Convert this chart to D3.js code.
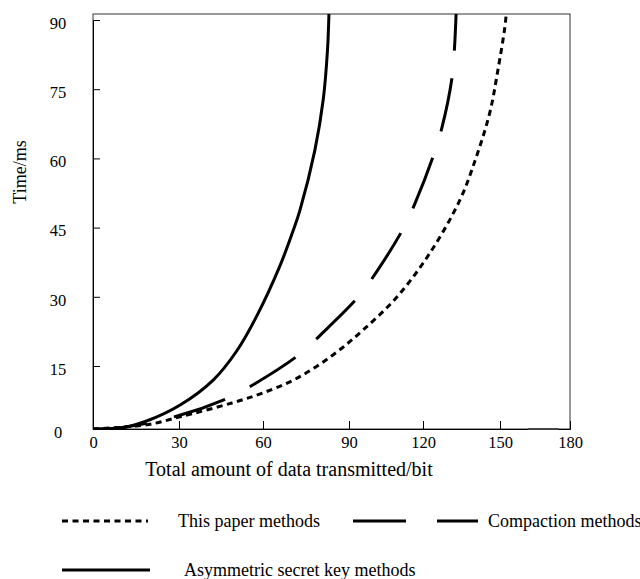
<!DOCTYPE html>
<html>
<head>
<meta charset="utf-8">
<script src="https://cdn.jsdelivr.net/npm/d3@7"></script>
<style>
    body { margin: 0; background: #fff; }
    svg text { font-family: "Liberation Serif", "Times New Roman", serif; fill: #000; }
</style>
</head>
<body>
<div id="chart"></div>
<script>

// tick values
const xTicks = [0, 30, 60, 90, 120, 150, 180];
const yTicks = [0, 15, 30, 45, 60, 75, 90];

const seriesNames = ["This paper methods", "Compaction methods", "Asymmetric secret key methods"];

// values (x = bits, y = ms)
const paperX = [0, 18.7, 30.4, 48.9, 60, 71.9, 84.4, 95.7, 109.5, 122.7, 134.4, 141.0, 146.1, 149.2, 152.1, 152.7];
const paperY = [0, 1.0, 2.9, 6.2, 8.6, 12.1, 17.4, 22.8, 30.0, 39.5, 51.0, 60.7, 70.1, 79.2, 88.5, 91.5];

const compactX = [0, 9.4, 29.4, 47.9, 57.4, 72.9, 80.0, 93.8, 100.9, 111.8, 116.8, 124.0, 127.3, 131.2, 132.2, 132.9];
const compactY = [0, 0.3, 3.1, 7.5, 10.9, 17.6, 21.7, 30.0, 35.2, 44.6, 50.3, 60.5, 66.5, 77.1, 83.3, 91.4];

const asymX = [0, 9.4, 18.7, 30.4, 42.3, 50.6, 57.75, 65.9, 70.6, 72.9, 78.1, 81.0, 82.5, 83.0];
const asymY = [0, 0.2, 1.9, 5.7, 11.7, 18.25, 25.8, 36.7, 44.5, 48.8, 61.8, 72.7, 83.5, 91.3];

let width = 640,
    height = 579,
    plot = {left: 93, right: 570, top: 14, bottom: 429};

// the original axis is not evenly spaced, so the scales are piecewise
let x = d3.scaleLinear()
    .domain(xTicks)
    .range([93, 179, 263, 349, 423, 500, 570]);

let y = d3.scaleLinear()
    .domain([0, 15, 90])
    .range([429, 366, 20]);

let svg = d3.select("#chart").append("svg")
    .attr("width", width)
    .attr("height", height)
    .style("display", "block");

svg.append("defs").append("clipPath")
    .attr("id", "plot-clip")
    .append("rect")
    .attr("x", plot.left)
    .attr("y", plot.top)
    .attr("width", plot.right - plot.left)
    .attr("height", plot.bottom - plot.top);

// frame
svg.append("rect")
    .attr("x", plot.left)
    .attr("y", plot.top)
    .attr("width", plot.right - plot.left)
    .attr("height", plot.bottom - plot.top)
    .attr("fill", "none")
    .attr("stroke", "#333")
    .attr("stroke-width", 1);

// x axis, ticks pointing inward
let xAxis = svg.append("g")
    .attr("transform", "translate(0," + plot.bottom + ")")
    .call(d3.axisBottom(x).tickValues(xTicks).tickSize(-8).tickPadding(7).tickFormat(d3.format("d")))
    .attr("font-family", null)
    .attr("font-size", null);
xAxis.select(".domain").attr("stroke", "#000");
xAxis.selectAll(".tick line").attr("stroke", "#000");
xAxis.selectAll(".tick").filter(d => d === 0 || d === 180).select("line").remove();
xAxis.selectAll("text")
    .style("font-size", "16.5px");

// y axis
let yAxis = svg.append("g")
    .attr("transform", "translate(" + plot.left + ",0)")
    .call(d3.axisLeft(y).tickValues(yTicks).tickSize(-7).tickPadding(26).tickFormat(d3.format("d")))
    .attr("font-family", null)
    .attr("font-size", null);
yAxis.select(".domain").attr("stroke", "#000");
yAxis.selectAll(".tick line").attr("stroke", "#000");
yAxis.selectAll(".tick").filter(d => d === 0 || d === 90).select("line").remove();
yAxis.selectAll("text")
    .attr("x", -35)
    .attr("dy", "0.5em")
    .attr("text-anchor", "middle")
    .style("font-size", "16.5px");

// axis titles
svg.append("text")
    .attr("x", 289)
    .attr("y", 476)
    .attr("text-anchor", "middle")
    .style("font-size", "20px")
    .text("Total amount of data transmitted/bit");

svg.append("text")
    .attr("transform", "translate(20,172) rotate(-90)")
    .attr("dy", "0.35em")
    .attr("text-anchor", "middle")
    .style("font-size", "18px")
    .text("Time/ms");

// curves
let line = d3.line()
    .x(d => x(d[0]))
    .y(d => y(d[1]))
    .curve(d3.curveCatmullRom.alpha(0.5));

let series = [
    {name: seriesNames[0], pts: d3.zip(paperX, paperY), dash: "6,4.5"},
    {name: seriesNames[1], pts: d3.zip(compactX, compactY), dash: "54,28"},
    {name: seriesNames[2], pts: d3.zip(asymX, asymY), dash: null}
];

svg.append("g")
    .attr("clip-path", "url(#plot-clip)")
    .selectAll("path")
    .data(series)
    .enter().append("path")
    .attr("d", d => line(d.pts))
    .attr("fill", "none")
    .attr("stroke", "#000")
    .attr("stroke-width", 3)
    .attr("stroke-dasharray", d => d.dash);

// stray segment on the bottom axis of the original
svg.append("line")
    .attr("x1", x(162)).attr("x2", x(175))
    .attr("y1", plot.bottom).attr("y2", plot.bottom)
    .attr("stroke", "#444")
    .attr("stroke-width", 2);

// legend
let legend = [
    {name: seriesNames[0], dash: "6,4.5", x1: 62, x2: 148, y: 521, tx: 178},
    {name: seriesNames[1], dash: "53,31", x1: 353, x2: 478, y: 521, tx: 488},
    {name: seriesNames[2], dash: null, x1: 62, x2: 150, y: 570, tx: 184}
];

let lg = svg.append("g").selectAll("g")
    .data(legend)
    .enter().append("g");

lg.append("line")
    .attr("x1", d => d.x1)
    .attr("x2", d => d.x2)
    .attr("y1", d => d.y)
    .attr("y2", d => d.y)
    .attr("stroke", "#000")
    .attr("stroke-width", 3)
    .attr("stroke-dasharray", d => d.dash);

lg.append("text")
    .attr("x", d => d.tx)
    .attr("y", d => d.y)
    .attr("dy", "0.35em")
    .style("font-size", "18px")
    .text(d => d.name);

</script>
</body>
</html>
